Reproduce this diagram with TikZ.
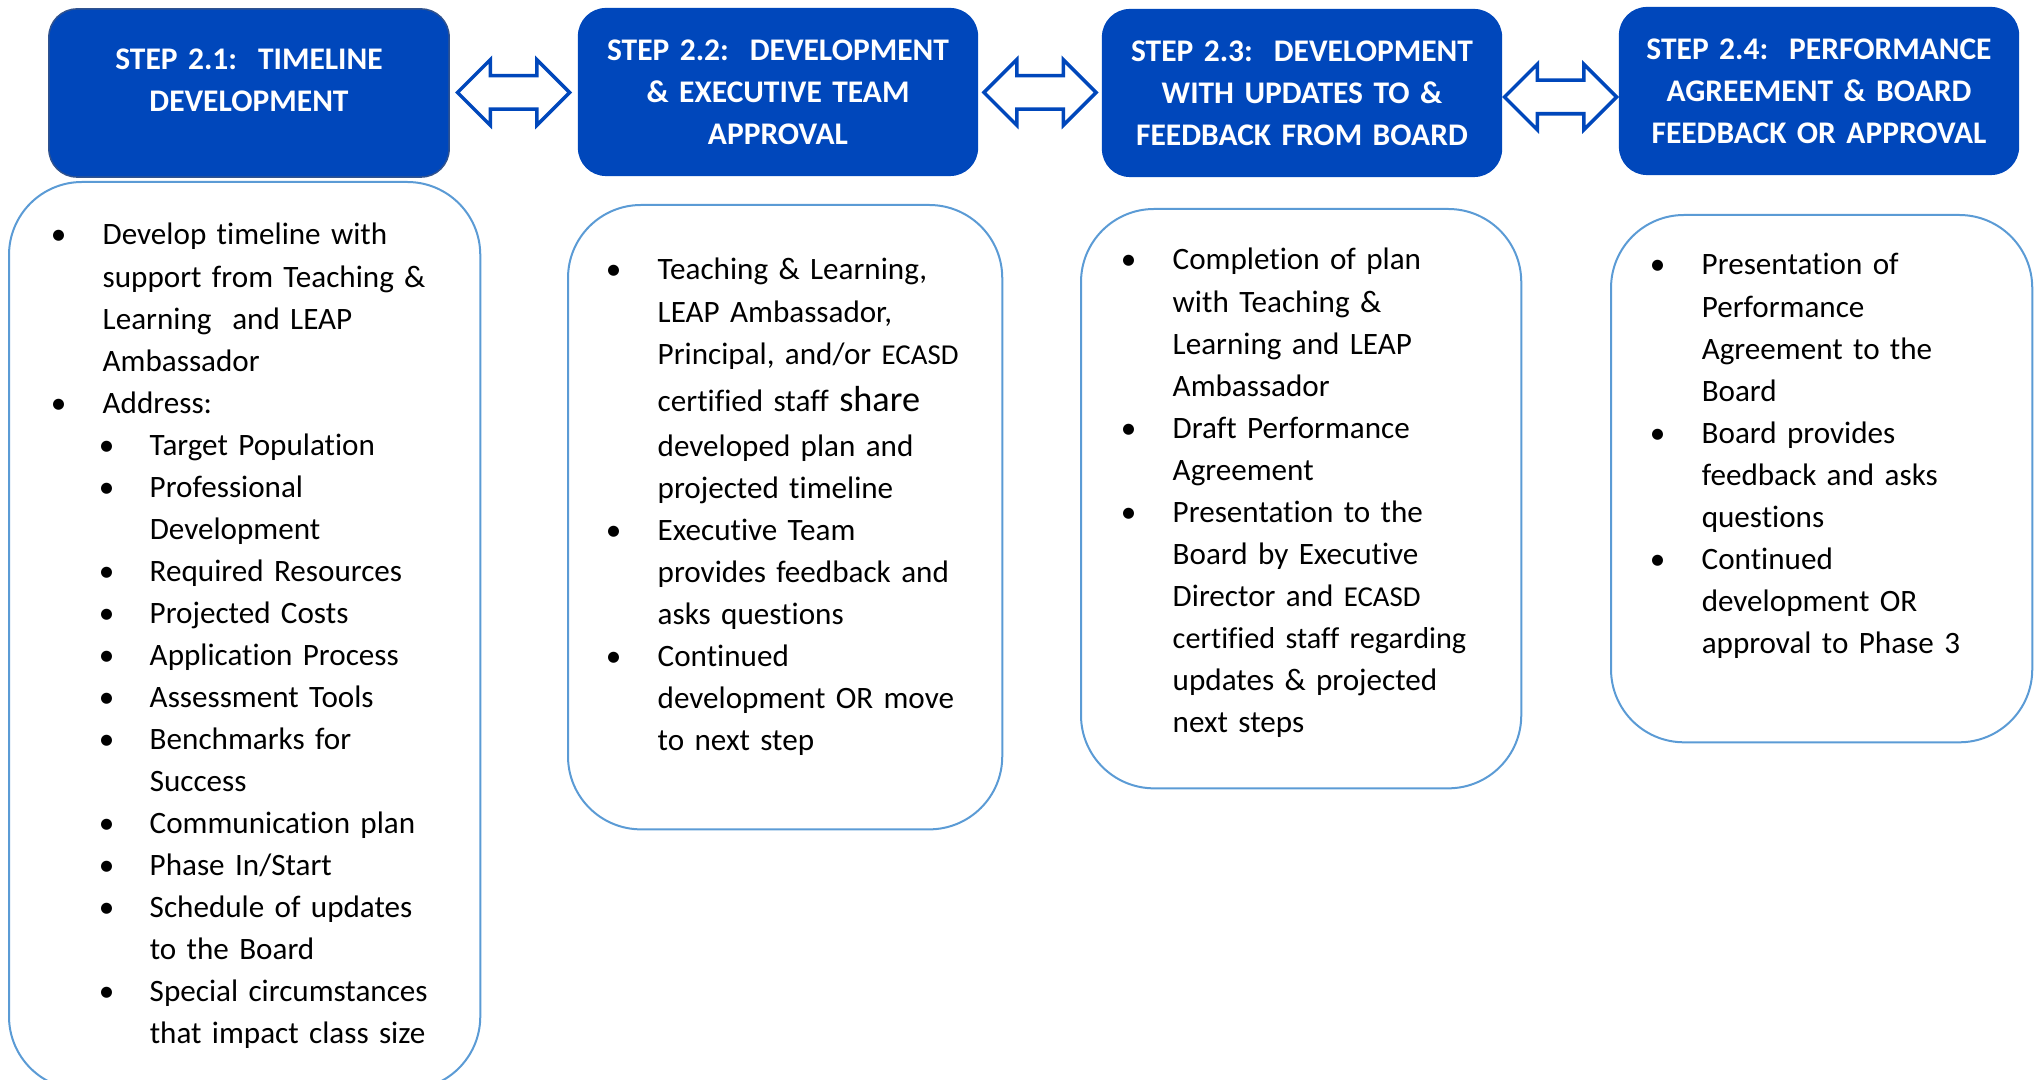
\documentclass[tikz,border=0pt]{standalone}
\usepackage{fontspec}
\setmainfont{Carlito}[Ligatures=NoCommon]
\usepackage{xcolor}
\usetikzlibrary{shapes.arrows, calc, positioning}
\definecolor{stepblue}{RGB}{0,71,187}
\definecolor{stepedge}{RGB}{47,82,143}
\definecolor{listedge}{RGB}{91,155,213}
\tikzstyle{titre} = [rectangle, rounded corners = 2.8mm, minimum width = 4cm, minimum height = 1.68cm, text width = 3.7cm, align = center, fill = stepblue, text = white, font = \fontsize{8.95pt}{11.95pt}\selectfont\bfseries]
\tikzstyle{liste} = [rectangle, rounded corners = 7.3mm, draw = listedge, line width = 0.2mm, anchor = north west]
\tikzstyle{texte} = [anchor = base west, inner sep = 0pt, text width = 4.2cm, align = left, font = \fontsize{8.85pt}{11.95pt}\selectfont]
\tikzstyle{fleche} = [double arrow, draw = stepblue, fill = white, line width = 0.35mm, minimum height = 11.2mm, minimum width = 6.2mm, double arrow head extend = 1.6mm, inner sep = 1.5mm]
\newcommand{\puce}{\makebox[4.4mm][l]{\makebox[0pt]{\textbullet}}}
\newcommand{\vide}{\makebox[4.4mm]{}}
\newcommand{\spuce}{\makebox[9.1mm][l]{\hspace{4.8mm}\makebox[0pt]{\textbullet}}}
\newcommand{\svide}{\makebox[9.1mm]{}}
\begin{document}
\begin{tikzpicture}[x = 0.01cm, y = -0.01cm]
\useasboundingbox (0,0) rectangle (2034,1080);
% etapes
\node (t1) [titre, draw = stepedge, line width = 0.15mm, text depth = 6.8mm] at (249,93) {STEP 2.1:\ \ TIMELINE\\DEVELOPMENT};
\node (t2) [titre] at (778,92) {STEP 2.2:\ \ DEVELOPMENT\\\& EXECUTIVE TEAM\\APPROVAL};
\node (t3) [titre] at (1302,93) {STEP 2.3:\ \ DEVELOPMENT\\WITH UPDATES TO \&\\FEEDBACK FROM BOARD};
\node (t4) [titre] at (1819,91) {STEP 2.4:\ \ PERFORMANCE\\AGREEMENT \& BOARD\\FEEDBACK OR APPROVAL};
% fleches doubles
\node (f1) [fleche] at ($(t1.east)!0.5!(t2.west)$) {};
\node (f2) [fleche] at ($(t2.east)!0.5!(t3.west)$) {};
\node (f3) [fleche, yshift = -0.5mm] at ($(t3.east)!0.5!(t4.west)$) {};
% listes
\node (l1) [liste, minimum width = 4.71cm, minimum height = 9.07cm] at (8,181) {};
\node (l2) [liste, minimum width = 4.34cm, minimum height = 6.24cm] at (567,204) {};
\node (l3) [liste, minimum width = 4.40cm, minimum height = 5.79cm] at (1080,208) {};
\node (l4) [liste, minimum width = 4.21cm, minimum height = 5.27cm] at (1610,214) {};
\node (x1) [texte] at (58,245) {\puce Develop timeline with\\ \vide support from Teaching \&\\ \vide Learning\ \ and LEAP\\ \vide Ambassador\\ \puce Address:\\ \spuce Target Population\\ \spuce Professional\\ \svide Development\\ \spuce Required Resources\\ \spuce Projected Costs\\ \spuce Application Process\\ \spuce Assessment Tools\\ \spuce Benchmarks for\\ \svide Success\\ \spuce Communication plan\\ \spuce Phase In/Start\\ \spuce Schedule of updates\\ \svide to the Board\\ \spuce Special circumstances\\ \svide that impact class size};
\node (x2) [texte] at (613,280) {\puce Teaching \& Learning,\\ \vide LEAP Ambassador,\\ \vide Principal, and/or {\fontsize{8.2pt}{11.95pt}\selectfont ECASD}\\[0.5mm] \vide certified staff {\fontsize{10.3pt}{11.95pt}\selectfont share}\\[0.3mm] \vide developed plan and\\ \vide projected timeline\\ \puce Executive Team\\ \vide provides feedback and\\ \vide asks questions\\ \puce Continued\\ \vide development OR move\\ \vide to next step};
\node (x3) [texte] at (1128,270) {\puce Completion of plan\\ \vide with Teaching \&\\ \vide Learning and LEAP\\ \vide Ambassador\\ \puce Draft Performance\\ \vide Agreement\\ \puce Presentation to the\\ \vide Board by Executive\\ \vide Director and {\fontsize{8.2pt}{11.95pt}\selectfont ECASD}\\ \vide {\fontsize{8.6pt}{11.95pt}\selectfont certified staff regarding}\\ \vide updates \& projected\\ \vide next steps};
\node (x4) [texte] at (1657,275) {\puce Presentation of\\ \vide Performance\\ \vide Agreement to the\\ \vide Board\\ \puce Board provides\\ \vide feedback and asks\\ \vide questions\\ \puce Continued\\ \vide development OR\\ \vide approval to Phase 3};
\end{tikzpicture}
\end{document}
